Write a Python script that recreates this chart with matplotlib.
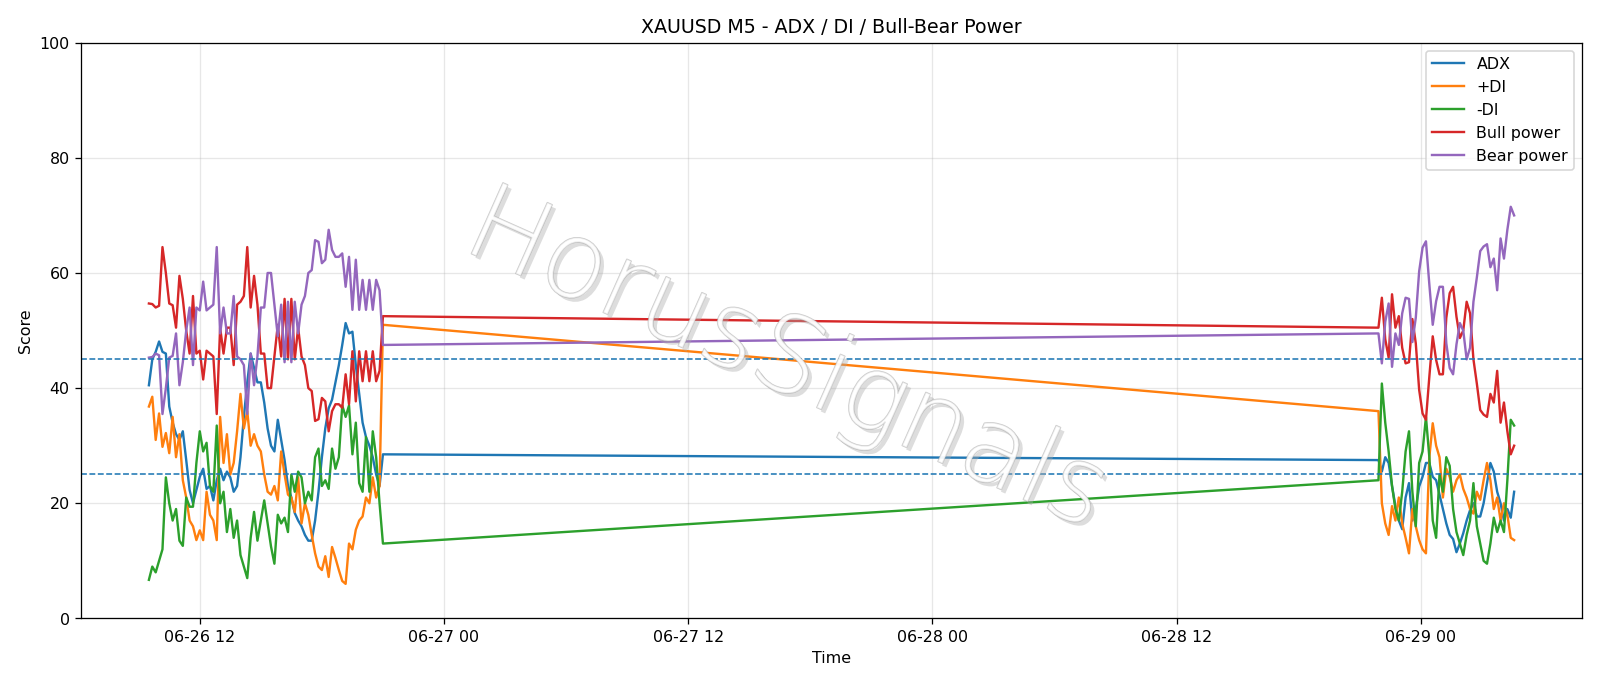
import matplotlib
matplotlib.use("Agg")
import matplotlib.pyplot as plt
import matplotlib.dates as mdates
import matplotlib.patheffects as pe
import pandas as pd

# ---- data (M5 chart, read at ~10-minute resolution) ----
seg1_start = "2020-06-26 09:30"
seg2_start = "2020-06-28 21:55"

adx_1 = [40.5, 45.0, 46.3, 48.1, 46.3, 46.0, 36.8, 34.0, 32.0, 31.0,
         32.5, 27.5, 22.3, 20.0, 22.3, 24.6, 26.0, 22.5, 23.0, 20.5,
         24.0, 26.0, 24.0, 25.5, 24.5, 22.0, 23.0, 28.0, 35.0, 41.0,
         46.0, 43.5, 41.0, 41.0, 37.5, 33.0, 30.0, 29.0, 34.5, 31.0,
         27.5, 23.0, 21.0, 18.3, 17.0, 16.0, 14.5, 13.5, 13.5, 17.0,
         22.0, 28.0, 33.0, 36.5, 38.0, 41.0, 44.0, 47.5, 51.3, 49.5,
         49.8, 44.0, 39.0, 34.0, 31.5, 30.0, 28.0, 25.0, 23.0, 28.5]
pdi_1 = [36.8, 38.5, 31.0, 35.6, 29.8, 32.2, 28.7, 35.0, 28.0, 32.0,
         24.0, 21.0, 17.0, 16.0, 13.6, 15.3, 13.6, 22.0, 18.0, 17.0,
         13.6, 35.0, 27.0, 32.0, 25.0, 27.0, 32.5, 39.0, 33.0, 36.0,
         30.0, 32.0, 30.0, 29.0, 25.0, 22.0, 21.5, 23.0, 20.5, 29.0,
         25.0, 21.5, 21.0, 18.5, 24.5, 16.5, 20.0, 18.0, 14.5, 11.3,
         9.0, 8.4, 10.8, 7.2, 12.4, 10.5, 8.4, 6.5, 6.0, 13.0,
         12.0, 15.4, 17.0, 17.7, 21.0, 20.0, 24.5, 21.0, 23.0, 51.0]
mdi_1 = [6.7, 9.0, 8.0, 10.0, 12.0, 24.5, 20.0, 17.0, 19.0, 13.5,
         12.6, 21.0, 19.4, 19.4, 27.0, 32.5, 29.0, 30.5, 23.0, 22.0,
         33.5, 20.0, 22.0, 15.0, 19.0, 14.0, 17.0, 11.0, 9.0, 7.0,
         14.0, 18.5, 13.5, 17.0, 20.5, 16.5, 12.5, 9.5, 18.0, 16.5,
         17.5, 15.0, 25.0, 22.0, 25.5, 24.5, 20.0, 22.0, 20.5, 28.0,
         29.5, 23.0, 24.0, 22.5, 29.5, 26.0, 28.0, 37.0, 35.0, 37.0,
         28.5, 34.0, 23.5, 22.0, 31.5, 22.0, 32.5, 28.0, 20.0, 13.0]
bull_1 = [54.7, 54.6, 54.0, 54.3, 64.5, 60.0, 54.7, 54.4, 50.5, 59.5,
          55.5, 50.0, 46.0, 56.0, 46.0, 46.5, 41.5, 46.5, 46.0, 45.5,
          35.5, 50.5, 46.0, 50.5, 50.5, 44.0, 54.5, 55.0, 56.0, 64.5,
          54.0, 59.5, 54.5, 46.0, 46.0, 40.0, 40.0, 45.5, 51.0, 45.5,
          55.5, 45.0, 55.5, 45.0, 50.5, 45.5, 44.0, 40.0, 39.5, 34.3,
          34.6, 38.3, 37.7, 32.5, 36.0, 37.2, 37.2, 36.6, 42.4, 37.2,
          46.4, 37.7, 46.4, 41.2, 46.4, 41.2, 46.4, 41.2, 43.0, 52.5]
bear_1 = [45.3, 45.4, 46.0, 45.7, 35.5, 40.0, 45.3, 45.6, 49.5, 40.5,
          44.5, 50.0, 54.0, 44.0, 54.0, 53.5, 58.5, 53.5, 54.0, 54.5,
          64.5, 49.5, 54.0, 49.5, 49.5, 56.0, 45.5, 45.0, 44.0, 35.5,
          46.0, 40.5, 45.5, 54.0, 54.0, 60.0, 60.0, 54.5, 49.0, 54.5,
          44.5, 55.0, 44.5, 55.0, 49.5, 54.5, 56.0, 60.0, 60.5, 65.7,
          65.4, 61.7, 62.3, 67.5, 64.0, 62.8, 62.8, 63.4, 57.6, 62.8,
          53.6, 62.3, 53.6, 58.8, 53.6, 58.8, 53.6, 58.8, 57.0, 47.5]

adx_2 = [27.5, 25.5, 28.0, 27.0, 23.0, 19.5, 17.0, 15.5, 21.0, 23.5,
         17.0, 19.0, 22.9, 24.6, 27.0, 27.0, 24.6, 24.0, 21.5, 19.0,
         16.5, 14.5, 13.8, 11.5, 13.0, 14.8, 17.0, 18.8, 20.0, 17.7,
         17.7, 20.0, 23.5, 27.0, 25.5, 22.0, 20.0, 17.0, 19.0, 17.5, 22.0]
pdi_2 = [36.0, 20.0, 16.5, 14.5, 19.5, 17.0, 21.0, 16.5, 14.0, 11.3,
         19.0, 16.0, 13.6, 12.0, 11.3, 28.0, 33.9, 30.0, 28.0, 21.0,
         26.0, 24.6, 22.0, 24.0, 25.0, 22.5, 21.0, 19.0, 18.2, 22.0,
         20.6, 24.0, 27.0, 24.0, 19.0, 21.0, 17.0, 20.0, 18.0, 14.0, 13.6]
mdi_2 = [24.0, 40.8, 34.0, 29.0, 23.0, 19.0, 17.0, 22.0, 29.0, 32.5,
         22.0, 16.0, 27.0, 29.0, 35.0, 28.0, 17.0, 14.0, 25.0, 22.0,
         28.0, 26.5, 19.0, 15.0, 13.0, 11.0, 14.5, 17.0, 23.5, 16.0,
         13.0, 10.0, 9.5, 13.0, 17.5, 15.0, 17.0, 15.0, 24.0, 34.5, 33.5]
bull_2 = [50.5, 55.7, 48.5, 45.3, 56.3, 50.5, 52.5, 47.0, 44.3, 44.5,
          52.0, 47.8, 39.7, 35.6, 34.5, 42.0, 49.0, 44.9, 42.4, 42.4,
          52.2, 56.5, 57.6, 52.4, 48.7, 50.0, 55.0, 53.0, 45.0, 40.8,
          36.2, 35.4, 35.0, 39.0, 37.5, 43.0, 34.0, 37.5, 32.5, 28.5, 30.0]
bear_2 = [49.5, 44.3, 51.5, 54.7, 43.7, 49.5, 47.5, 53.0, 55.7, 55.5,
          48.0, 52.2, 60.3, 64.4, 65.5, 58.0, 51.0, 55.1, 57.6, 57.6,
          47.8, 43.5, 42.4, 47.6, 51.3, 50.0, 45.0, 47.0, 55.0, 59.2,
          63.8, 64.6, 65.0, 61.0, 62.5, 57.0, 66.0, 62.5, 67.5, 71.5, 70.0]

threshold_levels = [25, 45]
series_labels = ["ADX", "+DI", "-DI", "Bull power", "Bear power"]
title = "XAUUSD M5 - ADX / DI / Bull-Bear Power"
watermark = "HorusSignals"

# ---- build frame ----
t1 = pd.date_range(seg1_start, periods=len(adx_1), freq="10min")
t2 = pd.date_range(seg2_start, periods=len(adx_2), freq="10min")
times = t1.append(t2)
df = pd.DataFrame({
    "ADX": adx_1 + adx_2,
    "+DI": pdi_1 + pdi_2,
    "-DI": mdi_1 + mdi_2,
    "Bull power": bull_1 + bull_2,
    "Bear power": bear_1 + bear_2,
}, index=times)

DPI = 1600 / 14
fig = plt.figure(figsize=(14, 686.2 / DPI), dpi=DPI)
ax = fig.add_axes([0.0504, 0.0985, 0.989 - 0.0504, 0.9375 - 0.0985])

colors = ["#1f77b4", "#ff7f0e", "#2ca02c", "#d62728", "#9467bd"]
for name, c in zip(series_labels, colors):
    ax.plot(df.index, df[name], color=c, linewidth=1.5, label=name)

for lvl in threshold_levels:
    ax.axhline(lvl, color="#1f77b4", linestyle="--", linewidth=1.0)

ax.set_ylim(0, 100)
ax.set_title(title)
ax.set_xlabel("Time")
ax.set_ylabel("Score")
ax.grid(True, alpha=0.3)
ax.xaxis.set_major_locator(mdates.HourLocator(byhour=[0, 12]))
ax.xaxis.set_major_formatter(mdates.DateFormatter("%m-%d %H"))
ax.legend(loc="upper right")

ax.text(0.47, 0.445, watermark, transform=ax.transAxes,
        fontsize=67, fontweight="light", rotation=-24, ha="center", va="center",
        color="white", alpha=0.6, zorder=10,
        path_effects=[pe.withSimplePatchShadow(offset=(2.5, -2.5), shadow_rgbFace="#aaaaaa", alpha=0.4),
                      pe.Stroke(linewidth=0.9, foreground="#a8a8a8"),
                      pe.Normal()])

fig.savefig("out.png", dpi=DPI)
